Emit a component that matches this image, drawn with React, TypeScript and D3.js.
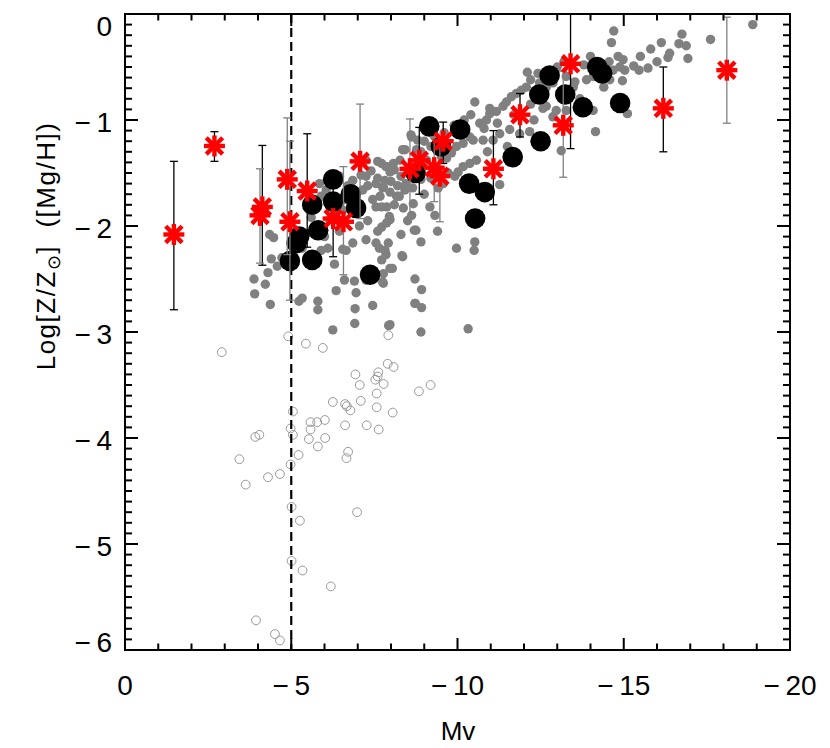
import React from 'react';
import * as d3 from 'd3';

// ---------- data ----------
const xMajorTicks = [0, -5, -10, -15, -20];
const xTickLabels = ['0', '−\u20095', '−\u200910', '−\u200915', '−\u200920'];
const yMajorTicks = [0, -1, -2, -3, -4, -5, -6];
const yTickLabels = ['0', '−\u20091', '−\u20092', '−\u20093', '−\u20094', '−\u20095', '−\u20096'];
const dashedLineMv = -5;

// field stars, filled grey  [Mv, Log Z]
const fieldFilled: [number, number][] = [
  [-12.42,-0.56],[-12.47,-0.65],[-12.37,-0.72],[-12.67,-0.69],[-12.87,-0.65],[-13.27,-0.59],
  [-12.07,-0.69],[-11.92,-0.72],[-11.77,-0.75],[-11.62,-0.78],[-11.47,-0.83],[-11.37,-0.87],[-11.17,-0.92],[-10.97,-0.94],[-10.87,-1.00],[-10.67,-1.03],[-10.52,-0.83],[-10.97,-0.89],
  [-12.57,-0.89],[-12.67,-0.87],[-12.97,-0.91],[-12.87,-0.97],[-13.27,-0.91],
  [-13.12,-1.29],[-12.17,-1.11],[-11.87,-1.13],[-11.57,-1.09],[-11.27,-1.13],[-11.07,-1.19],[-10.77,-1.19],[-10.47,-1.19],[-10.37,-1.16],[-10.17,-1.22],[-9.97,-1.25],[-9.82,-1.31],[-9.67,-1.36],[-9.52,-1.35],
  [-10.57,-1.38],[-10.37,-1.41],[-10.17,-1.44],[-10.02,-1.49],[-9.92,-1.53],
  [-9.07,-1.38],[-8.77,-1.28],[-8.62,-1.16],[-8.42,-1.28],[-8.27,-1.38],[-8.07,-1.41],[-7.87,-1.44],[-7.72,-1.41],[-7.97,-1.49],[-7.82,-1.57],[-7.77,-1.63],
  [-8.42,-1.66],[-8.17,-1.72],[-7.97,-1.68],[-7.67,-1.72],[-7.87,-1.82],[-8.37,-1.83],[-7.72,-1.82],[-7.97,-1.94],[-7.87,-1.97],[-7.72,-2.01],
  [-8.67,-1.79],[-8.62,-1.90],[-9.32,-1.90],[-9.17,-1.82],[-9.72,-1.50],[-9.57,-1.60],[-9.42,-1.64],
  [-9.97,-2.21],[-10.52,-2.15],[-10.50,-2.23],[-8.75,-2.04],[-8.35,-2.29],[-8.04,-2.40],[-7.77,-2.45],[-7.77,-2.54],[-7.92,-2.16],[-7.82,-2.23],[-7.72,-2.32],
  [-8.92,-2.60],[-8.72,-2.73],[-8.92,-2.77],[-7.97,-2.93],[-8.90,-3.00],[-10.32,-2.97],[-11.27,-1.61],
  [-18.88,-0.10],[-14.70,-0.16],[-14.63,-0.27],[-16.13,-0.27],[-16.75,-0.19],[-16.66,-0.28],[-16.88,-0.30],[-17.61,-0.24],[-15.81,-0.33],[-16.38,-0.37],[-16.33,-0.41],[-16.93,-0.42],
  [-14.56,-0.45],[-14.83,-0.40],[-14.98,-0.43],[-14.88,-0.50],[-15.03,-0.53],[-15.30,-0.49],[-15.46,-0.53],[-15.73,-0.51],[-14.68,-0.53],[-14.96,-0.63],[-14.58,-0.62],[-14.40,-0.69],
  [-13.88,-0.62],[-14.08,-0.59],[-13.53,-0.64],[-13.48,-0.69],[-13.68,-0.80],[-14.08,-0.91],[-15.11,-0.94],[-14.15,-1.11],
  [-3.88,-2.50],[-4.22,-2.55],[-3.90,-2.64],[-4.37,-2.74],[-4.35,-2.08],[-4.47,-2.11],[-4.40,-2.31],[-4.72,-2.30],[-4.58,-2.38],[-4.30,-2.44],
  [-5.23,-2.71],[-5.33,-2.68],[-5.80,-2.71],[-5.80,-2.79],[-6.35,-2.61],[-6.30,-2.36],[-6.92,-2.78],[-7.45,-2.75],[-6.95,-2.63],[-6.60,-2.51],[-6.90,-2.52],[-7.25,-2.51],
  [-7.55,-2.16],[-7.75,-2.53],[-7.65,-2.21],[-7.85,-2.27],[-7.97,-2.40],[-8.33,-2.28],[-8.72,-2.50],[-8.73,-2.73],[-8.70,-2.04],[-6.85,-2.16],[-6.55,-2.22],[-5.90,-2.23],[-5.33,-2.21],[-5.65,-2.29],[-6.10,-2.21],[-5.05,-2.13],
  [-7.25,-1.38],[-7.60,-1.39],[-7.85,-1.44],[-8.10,-1.47],[-8.30,-1.53],[-8.45,-1.60],[-8.65,-1.64],[-8.25,-1.72],[-7.75,-1.64],[-7.45,-1.75],[-7.95,-1.91],[-7.55,-1.82],[-7.25,-1.53],[-6.85,-1.57],[-6.45,-1.53],[-6.05,-1.66],[-5.85,-1.60],
  [-8.35,-1.28],[-8.60,-1.14],[-8.80,-1.19],[-8.75,-1.53],[-5.05,-2.29],[-5.45,-2.07],[-6.15,-1.94],[-6.55,-1.85],[-6.95,-1.75],[-7.15,-1.66],[-7.55,-1.60],[-6.45,-2.05],[-7.05,-2.00],[-7.25,-2.13],[-6.65,-2.23],
  [-6.25,-2.98],[-6.91,-2.92],[-7.93,-2.94],
  [-7.40,-1.48],[-7.60,-1.55],[-8.00,-1.58],[-8.20,-1.62],[-8.50,-1.48],[-8.90,-1.56],[-7.30,-1.62],[-7.10,-1.52],[-6.70,-1.62],[-6.60,-1.75],[-7.00,-1.88],[-7.30,-1.95],
  [-8.10,-1.80],[-8.50,-1.95],[-9.00,-1.70],[-9.20,-1.55],[-6.30,-1.88],[-5.90,-1.72],[-5.60,-1.92],[-6.00,-2.10],[-7.60,-2.05],[-8.30,-2.08],[-8.90,-2.15],[-9.40,-2.05],
  [-9.30,-1.15],[-9.60,-1.12],[-9.90,-1.05],[-10.20,-1.00],[-10.40,-0.95],[-10.80,-1.08],[-11.20,-1.03],[-11.70,-0.95],[-12.20,-0.85],[-12.30,-1.00],[-11.50,-1.25],[-10.90,-1.30],
  [-9.20,-1.25],[-9.00,-1.20],[-8.90,-1.30],[-12.10,-0.55],[-12.20,-0.62],[-13.00,-0.50],[-13.20,-0.45],[-13.80,-0.48],[-14.00,-0.40],[-15.50,-0.40],[-16.00,-0.45],
];

// field stars, open circles  [Mv, Log Z]
const fieldOpen: [number, number][] = [
  [-4.91,-3.04],[-5.44,-3.11],[-5.95,-3.15],[-2.91,-3.19],[-7.92,-3.03],[-7.90,-3.30],[-8.08,-3.33],[-6.93,-3.40],[-7.62,-3.38],[-7.60,-3.42],
  [-7.53,-3.45],[-7.78,-3.49],[-7.06,-3.50],[-9.19,-3.50],[-8.84,-3.56],[-7.57,-3.58],[-6.25,-3.66],[-7.09,-3.65],[-6.62,-3.68],[-6.67,-3.70],
  [-6.78,-3.74],[-7.57,-3.71],[-8.05,-3.76],[-5.05,-3.75],[-5.58,-3.85],[-5.78,-3.85],[-6.01,-3.83],[-6.62,-3.88],[-7.27,-3.88],[-7.63,-3.92],
  [-5.58,-3.92],[-4.98,-3.91],[-5.05,-3.97],[-3.92,-3.99],[-4.04,-3.97],[-5.53,-4.01],[-6.02,-4.00],[-5.80,-4.08],[-5.22,-4.16],[-6.71,-4.13],
  [-6.66,-4.19],[-3.44,-4.20],[-4.98,-4.25],[-4.66,-4.34],[-4.30,-4.37],[-3.63,-4.44],[-5.01,-4.65],[-6.98,-4.70],[-5.26,-4.78],[-5.01,-5.16],
  [-5.34,-5.25],[-6.19,-5.40],[-3.94,-5.72],[-4.51,-5.85],[-4.66,-5.91],
];

// globular clusters, large black circles
const clusterMv = [-6.26,-5.63,-6.26,-6.79,-6.95,-5.81,-5.24,-5.16,-4.96,-5.63,-7.37,-9.15,-10.08,-9.50,-8.74,-10.35,-10.82,-10.53,-11.66,-12.50,-12.46,-12.77,-13.24,-13.77,-14.20,-14.35,-14.89];
const clusterLogZ = [-1.56,-1.80,-1.77,-1.70,-1.83,-2.04,-2.10,-2.16,-2.33,-2.32,-2.46,-1.06,-1.09,-1.25,-1.50,-1.60,-1.68,-1.93,-1.35,-1.20,-0.76,-0.58,-0.76,-0.88,-0.50,-0.56,-0.84];

// red asterisks with error bars
const starMv = [-1.47,-2.69,-4.13,-4.06,-4.88,-4.96,-5.48,-6.26,-6.57,-7.07,-8.57,-8.85,-9.30,-9.57,-9.47,-11.08,-11.88,-13.18,-13.40,-16.19,-18.10];
const starLogZ = [-2.08,-1.245,-1.82,-1.90,-1.56,-1.96,-1.67,-1.93,-1.96,-1.39,-1.46,-1.38,-1.45,-1.20,-1.53,-1.46,-0.95,-1.05,-0.47,-0.89,-0.53];
const starErrTop = [-1.39,-1.11,-1.24,-1.46,-0.98,-1.20,-1.13,-1.57,-1.44,-0.85,-0.99,-1.07,-1.16,-1.02,-1.16,-1.10,-0.75,-0.54,0.0,-0.50,-0.03];
const starErrBottom = [-2.79,-1.39,-2.37,-2.35,-2.27,-2.70,-2.20,-2.29,-2.46,-1.93,-1.91,-1.70,-1.77,-1.41,-1.96,-1.80,-1.16,-1.54,-1.27,-1.30,-1.03];
const starErrGrey = [false,false,false,true,true,true,false,false,true,true,true,false,true,false,true,false,false,true,false,false,true];

// ---------- layout ----------
const W = 830, H = 748;
const L = 125, R = 790, T = 14, B = 650;
const FONT = '"Liberation Sans", Arial, Helvetica, sans-serif';

export default function App() {
  const x = d3.scaleLinear().domain([0, -20]).range([L, R]);
  const y = d3.scaleLinear().domain([0, -6]).range([T, B]);
  const xMinor = d3.range(0, -20.001, -1);
  const yMinor = d3.range(0, -6.001, -0.1);
  const grey = '#808080';
  const starArm = 10.5;

  return (
    <svg width={W} height={H} style={{ position: 'absolute', left: 0, top: 0, background: '#fff' }}
      fontFamily={FONT}>
      <rect x={0} y={0} width={W} height={H} fill="#fff" />
      <defs>
        <clipPath id="plotclip"><rect x={L} y={T} width={R - L} height={B - T} /></clipPath>
      </defs>

      <g clipPath="url(#plotclip)">
        {fieldFilled.map((d, i) => (
          <circle key={'f' + i} cx={x(d[0])} cy={y(d[1])} r={4.7} fill={grey} />
        ))}
        {fieldOpen.map((d, i) => (
          <circle key={'o' + i} cx={x(d[0])} cy={y(d[1])} r={4.4} fill="none" stroke="#999" strokeWidth={1} />
        ))}
        <line x1={x(dashedLineMv)} x2={x(dashedLineMv)} y1={T} y2={B} stroke="#000" strokeWidth={2.2} strokeDasharray="9,5" />
        {clusterMv.map((m, i) => (
          <circle key={'c' + i} cx={x(m)} cy={y(clusterLogZ[i])} r={10.3} fill="#000" />
        ))}
        {starMv.map((m, i) => {
          const cx = x(m);
          const y1 = y(starErrTop[i]), y2 = y(starErrBottom[i]);
          const col = starErrGrey[i] ? grey : '#000';
          return (
            <g key={'e' + i} stroke={col} strokeWidth={1.3}>
              <line x1={cx} x2={cx} y1={y1} y2={y2} />
              <line x1={cx - 4} x2={cx + 4} y1={y1} y2={y1} />
              <line x1={cx - 4} x2={cx + 4} y1={y2} y2={y2} />
            </g>
          );
        })}
        {starMv.map((m, i) => {
          const cx = x(m), cy = y(starLogZ[i]);
          const a = starArm, dd = starArm * 0.78;
          return (
            <g key={'s' + i} stroke="#ff0000" strokeWidth={4.4}>
              <line x1={cx} x2={cx} y1={cy - a} y2={cy + a} />
              <line x1={cx - a} x2={cx + a} y1={cy} y2={cy} />
              <line x1={cx - dd} x2={cx + dd} y1={cy - dd} y2={cy + dd} />
              <line x1={cx - dd} x2={cx + dd} y1={cy + dd} y2={cy - dd} />
            </g>
          );
        })}
      </g>

      {/* frame */}
      <rect x={L} y={T} width={R - L} height={B - T} fill="none" stroke="#000" strokeWidth={2} />
      {xMinor.map((v, i) => {
        const major = xMajorTicks.includes(v);
        const len = major ? 12 : 6.5;
        return (
          <g key={'xt' + i} stroke="#000" strokeWidth={2}>
            <line x1={x(v)} x2={x(v)} y1={B} y2={B - len} />
            <line x1={x(v)} x2={x(v)} y1={T} y2={T + len} />
          </g>
        );
      })}
      {yMinor.map((v, i) => {
        const major = Math.abs(v - Math.round(v)) < 1e-6;
        const len = major ? 13 : 7;
        return (
          <g key={'yt' + i} stroke="#000" strokeWidth={2}>
            <line x1={L} x2={L + len} y1={y(v)} y2={y(v)} />
            <line x1={R} x2={R - len} y1={y(v)} y2={y(v)} />
          </g>
        );
      })}
      {xMajorTicks.map((v, i) => (
        <text key={'xl' + i} x={x(v)} y={695} textAnchor="middle" fontSize={28} fill="#000">{xTickLabels[i]}</text>
      ))}
      {yMajorTicks.map((v, i) => (
        <text key={'yl' + i} x={112} y={Math.min(642, Math.max(26, y(v) + 2))} textAnchor="end"
          dominantBaseline="central" fontSize={28} fill="#000">{yTickLabels[i]}</text>
      ))}

      <text x={458} y={740} textAnchor="middle" fontSize={26} fill="#000">Mv</text>
      <text transform={`translate(55,246) rotate(-90)`} textAnchor="middle" fontSize={26} letterSpacing={1.5} fill="#000"
        style={{ whiteSpace: 'pre' }}>
        Log[Z/Z<tspan fontSize={18} dy={5}>⊙</tspan><tspan dy={-5}>{']  ([Mg/H])'}</tspan>
      </text>
    </svg>
  );
}
